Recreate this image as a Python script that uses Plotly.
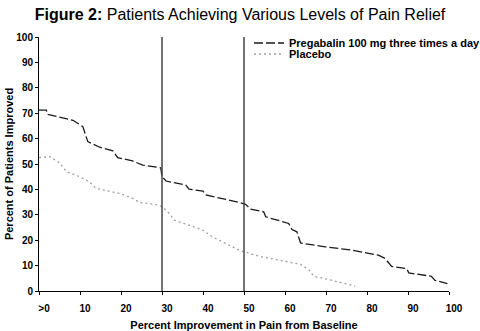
import plotly.graph_objects as go

# Percent improvement in pain (x) vs percent of patients improved (y)
preg_x = [0, 1.8, 2.0, 8.3, 10.7, 11.9, 14.8, 18.0, 19.2, 22.8, 25.3, 29.7, 30.0, 31.0, 35.8, 36.6,
          40.0, 40.7, 48.8, 50.4, 51.6, 54.8, 55.3, 60.9, 61.7, 62.9, 63.8, 69.8, 76.3, 82.8,
          84.4, 86.0, 89.7, 90.2, 95.7, 96.6, 99.6]
preg_y = [71.2, 71.2, 69.6, 67.2, 64.7, 58.8, 56.6, 55.2, 52.5, 51.2, 49.6, 48.5, 45.0, 43.3, 41.7, 40.1,
          39.3, 37.8, 34.9, 34.1, 32.2, 31.2, 29.2, 26.6, 24.2, 23.3, 18.9, 17.4, 16.1, 14.1,
          12.8, 9.7, 8.8, 7.1, 5.8, 4.2, 2.9]

plac_x = [0, 2.6, 5.0, 6.7, 9.9, 12.3, 13.9, 19.6, 22.8, 24.5, 29.3, 30.5, 31.8, 33.0, 36.6, 39.9,
          42.3, 45.5, 48.8, 53.6, 58.5, 63.8, 65.8, 67.0, 71.5, 77.1]
plac_y = [52.5, 52.9, 50.5, 47.0, 45.0, 43.0, 40.4, 38.4, 36.5, 34.9, 33.8, 32.5, 30.5, 27.9, 25.9, 24.0,
          21.3, 18.7, 16.1, 13.7, 12.1, 10.5, 8.4, 5.8, 4.2, 1.9]

x_tickvals = [0, 10, 20, 30, 40, 50, 60, 70, 80, 90, 100]
x_ticktext = [">0", "10", "20", "30", "40", "50", "60", "70", "80", "90", "100"]
y_tickvals = [0, 10, 20, 30, 40, 50, 60, 70, 80, 90, 100]
reference_lines = [30, 50]

series_names = ["Pregabalin 100 mg three times a day", "Placebo"]

FONT = "Liberation Sans, Arial, Helvetica, sans-serif"

fig = go.Figure()
fig.add_trace(go.Scatter(x=preg_x, y=preg_y, mode="lines", name="<b>%s</b>" % series_names[0],
                         legend="legend",
                         line=dict(color="#1a1a1a", width=1.3, dash="9px,3px")))
fig.add_trace(go.Scatter(x=plac_x, y=plac_y, mode="lines", name="<b>%s</b>" % series_names[1],
                         legend="legend2",
                         line=dict(color="#a0a0a0", width=1.3, dash="2px,3px")))

for xv in reference_lines:
    fig.add_shape(type="line", x0=xv, x1=xv, y0=0, y1=100, xref="x", yref="y",
                  line=dict(color="#444444", width=1.5))

legend_common = dict(xref="container", yref="container", xanchor="left", yanchor="middle",
                     bgcolor="rgba(0,0,0,0)", font=dict(size=11, family=FONT, color="black"),
                     itemwidth=30, borderwidth=0)

fig.update_layout(
    width=480, height=331,
    margin=dict(l=39, r=31, t=37, b=40, autoexpand=False),
    paper_bgcolor="white", plot_bgcolor="white",
    font=dict(family=FONT, color="black"),
    title=dict(text="<b>Figure 2:</b> Patients Achieving Various Levels of Pain Relief",
               x=0.5, xanchor="center", y=1 - 14 / 331, yanchor="middle",
               font=dict(family="Liberation Sans Narrow, Arial Narrow, sans-serif", size=16, color="black")),
    legend=dict(x=249 / 480, y=1 - 43 / 331, **legend_common),
    legend2=dict(x=249 / 480, y=1 - 54 / 331, **legend_common),
    showlegend=True,
)
fig.update_xaxes(range=[0, 100], tickvals=x_tickvals,
                 ticktext=["<b>%s</b>" % t.replace(">", "&gt;") for t in x_ticktext],
                 showgrid=False, zeroline=False, showline=True, linecolor="black", linewidth=1,
                 ticks="outside", ticklen=3, tickcolor="black", ticklabelstandoff=5, ticklabelshift=5,
                 tickfont=dict(size=10, family=FONT), automargin=False,
                 title=dict(text="<b>Percent Improvement in Pain from Baseline</b>", standoff=10,
                            font=dict(size=11, family=FONT)))
fig.update_yaxes(range=[0, 100], tickvals=y_tickvals,
                 ticktext=["<b>%d</b>" % v for v in y_tickvals],
                 showgrid=False, zeroline=False, showline=True, linecolor="black", linewidth=1,
                 ticks="outside", ticklen=3, tickcolor="black", automargin=False,
                 tickfont=dict(size=10, family=FONT),
                 title=dict(text="<b>Percent of Patients Improved</b>", standoff=0,
                            font=dict(size=11, family=FONT)))

fig.write_html("out.html")
